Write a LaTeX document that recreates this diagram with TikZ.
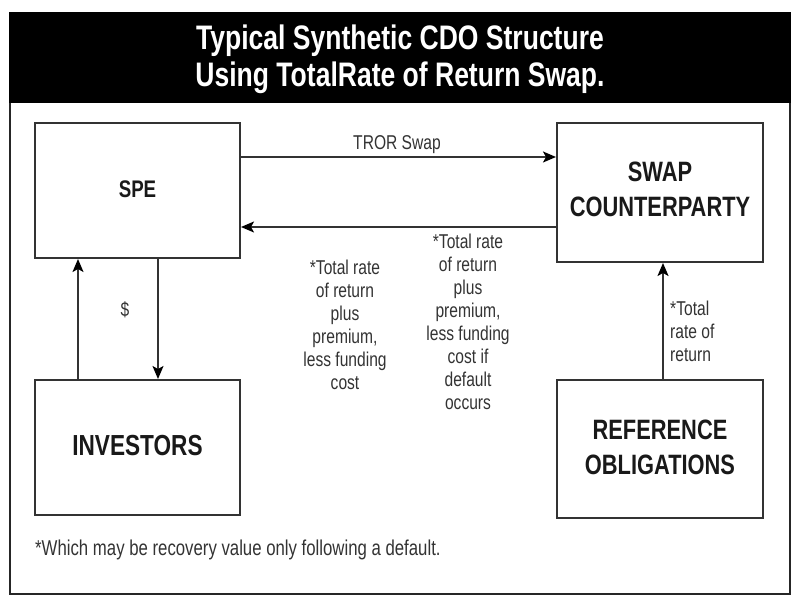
\documentclass[tikz,border=0pt]{standalone}
\usepackage{fontspec}
\setmainfont[FakeStretch=0.78]{Liberation Sans}
\usetikzlibrary{arrows.meta}
\begin{document}
\begin{tikzpicture}[x=1pt,y=-1pt,
  box/.style={draw=black!80,line width=2.2pt,fill=white,inner sep=0pt},
  boxtext/.style={font=\fontsize{28}{35}\selectfont\bfseries,align=center,text=black!90},
  conn/.style={draw=black!80,line width=1.8pt,-{Stealth[length=13pt,width=11pt,inset=3pt,fill=black,color=black]}},
  small/.style={font=\fontsize{20}{23}\selectfont,align=center,text=black!80},
]
\useasboundingbox (0,0) rectangle (800,604);
% frame and title band
\draw[black!85,line width=2pt] (10,13) rectangle (790,594);
\fill[black] (9,12) rectangle (791,103);
\node[font=\fontsize{34}{37}\selectfont\bfseries,text=white,align=center] (title) at (400,59)
  {Typical Synthetic CDO Structure\\Using TotalRate of Return Swap.};
% boxes
\draw[box] (35,123) rectangle (240,258);
\node[boxtext,font=\fontsize{24}{30}\selectfont\bfseries] (spe) at (137.5,189) {SPE};
\draw[box] (557,123) rectangle (763,262);
\node[boxtext] (swap) at (660,189) {SWAP\\COUNTERPARTY};
\draw[box] (35,380) rectangle (240,515);
\node[boxtext,font=\fontsize{29}{35}\selectfont\bfseries] (inv) at (137.5,446) {INVESTORS};
\draw[box] (557,380) rectangle (763,518);
\node[boxtext] (ref) at (660,447) {REFERENCE\\OBLIGATIONS};
% connector coordinates on box edges
\coordinate (a1) at (241,157); \coordinate (a2) at (556,157);
\coordinate (b1) at (556,227); \coordinate (b2) at (241,227);
\coordinate (c1) at (78,379); \coordinate (c2) at (78,259);
\coordinate (d1) at (158,259); \coordinate (d2) at (158,379);
\coordinate (e1) at (663,379); \coordinate (e2) at (663,263);
\draw[conn] (a1) -- (a2);
\draw[conn] (b1) -- (b2);
\draw[conn] (c1) -- (c2);
\draw[conn] (d1) -- (d2);
\draw[conn] (e1) -- (e2);
% labels
\node[small] (tror) at (397,145) {TROR Swap};
\node[small] (dollar) at (125,310) {\$};
\node[small,anchor=north] (lab1) at (345,256) {*Total rate\\of return\\plus\\premium,\\less funding\\cost};
\node[small,anchor=north] (lab2) at (468,230) {*Total rate\\of return\\plus\\premium,\\less funding\\cost if\\default\\occurs};
\node[small,align=left,anchor=west,inner sep=0pt] (lab3) at (670,331) {*Total\\rate of\\return};
\node[small,anchor=west,inner sep=0pt,font=\fontsize{21.5}{23}\selectfont] (foot) at (35,550) {*Which may be recovery value only following a default.};
\end{tikzpicture}
\end{document}
